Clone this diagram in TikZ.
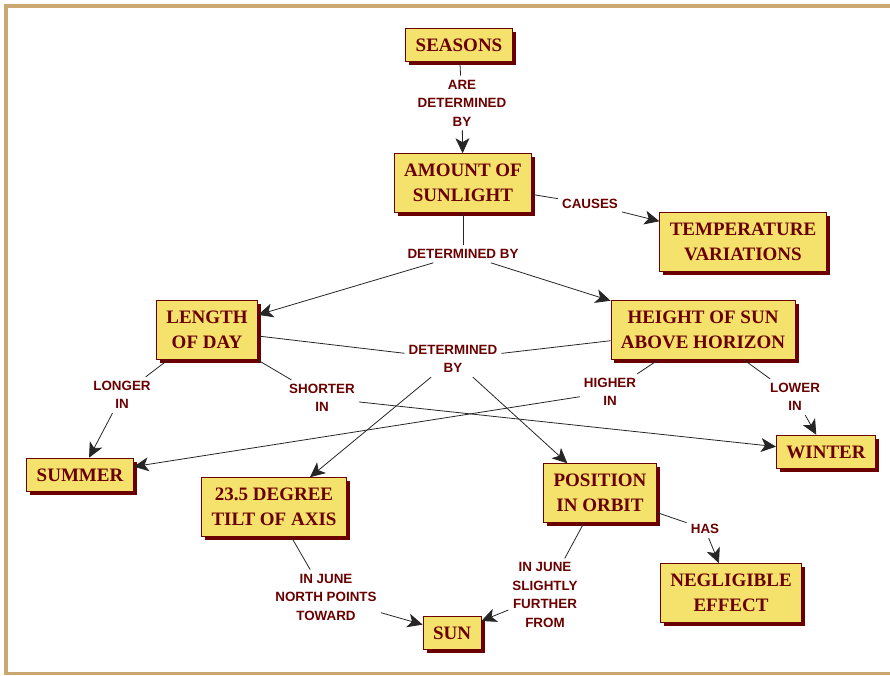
\documentclass[tikz,border=0pt]{standalone}
\usepackage{fontspec}
\setmainfont{Liberation Serif}
\setsansfont{Liberation Sans}
\usetikzlibrary{arrows.meta,shadows}
\definecolor{boxfill}{HTML}{F5E26C}
\definecolor{darkred}{HTML}{6A0000}
\definecolor{frametan}{HTML}{CBA872}
\tikzset{
  concept/.style={draw=darkred, line width=0.8pt, fill=boxfill, text=darkred,
    font=\fontsize{19}{25}\selectfont\bfseries, align=center,
    inner xsep=10pt, inner ysep=10.5pt,
    drop shadow={shadow xshift=3.5pt, shadow yshift=-3.5pt, fill=darkred, opacity=1}},
  linkword/.style={text=darkred, font=\sffamily\bfseries\fontsize{13.4}{18.5}\selectfont,
    align=center, inner sep=4pt},
  link/.style={line width=0.8pt, draw=black!85},
  linkto/.style={link, -{Stealth[length=15pt,width=14pt,inset=4pt]}}
}
\begin{document}
\begin{tikzpicture}[x=1pt,y=-1pt]
\useasboundingbox (0,0) rectangle (890,675);
\draw[frametan, line width=3.5pt] (890,6) -- (5.8,6) -- (5.8,673.5) -- (890,673.5);

\node[concept] (seasons) at (459,45) {SEASONS};
\node[concept] (sunlight) at (463,183) {AMOUNT OF\\SUNLIGHT};
\node[concept] (temp) at (743,242) {TEMPERATURE\\VARIATIONS};
\node[concept] (dayl) at (207,330) {LENGTH\\OF DAY};
\node[concept] (height) at (703,330) {HEIGHT OF SUN\\ABOVE HORIZON};
\node[concept] (summer) at (80,475) {SUMMER};
\node[concept] (winter) at (826,452) {WINTER};
\node[concept] (tilt) at (274,507) {23.5 DEGREE\\TILT OF AXIS};
\node[concept] (orbit) at (600,493) {POSITION\\IN ORBIT};
\node[concept] (neglig) at (731,593) {NEGLIGIBLE\\EFFECT};
\node[concept] (sun) at (452,633) {SUN};

\node[linkword] (aredet) at (462,103) {ARE\\DETERMINED\\BY};
\node[linkword] (causes) at (590,204) {CAUSES};
\node[linkword] (detby) at (463,254) {DETERMINED BY};
\node[linkword] (detby2) at (453,359) {DETERMINED\\BY};
\node[linkword] (longer) at (122,395) {LONGER\\IN};
\node[linkword] (shorter) at (322,398) {SHORTER\\IN};
\node[linkword] (higher) at (610,392) {HIGHER\\IN};
\node[linkword] (lower) at (795,397) {LOWER\\IN};
\node[linkword] (toward) at (326,597) {IN JUNE\\NORTH POINTS\\TOWARD};
\node[linkword] (further) at (545,595) {IN JUNE\\SLIGHTLY\\FURTHER\\FROM};
\node[linkword] (has) at (705,529) {HAS};

\draw[link] (seasons) -- (aredet);
\draw[linkto] (aredet) -- (sunlight);
\draw[link] (sunlight) -- (causes);
\draw[linkto] (causes) -- (temp);
\draw[link] (sunlight) -- (detby);
\draw[linkto] (detby) -- (dayl);
\draw[linkto] (detby) -- (height);
\draw[link] (dayl) -- (detby2);
\draw[link] (height) -- (detby2);
\draw[linkto] (detby2) -- (tilt);
\draw[linkto] (detby2) -- (orbit);
\draw[link] (dayl) -- (longer);
\draw[linkto] (longer) -- (summer);
\draw[link] (dayl) -- (shorter);
\draw[linkto] (shorter) -- (winter);
\draw[link] (height) -- (higher);
\draw[linkto] (higher) -- (summer);
\draw[link] (height) -- (lower);
\draw[linkto] (lower) -- (winter);
\draw[link] (tilt) -- (toward);
\draw[linkto] (toward) -- (sun);
\draw[link] (orbit) -- (further);
\draw[linkto] (further) -- (sun);
\draw[link] (orbit) -- (has);
\draw[linkto] (has) -- (neglig);
\end{tikzpicture}
\end{document}
